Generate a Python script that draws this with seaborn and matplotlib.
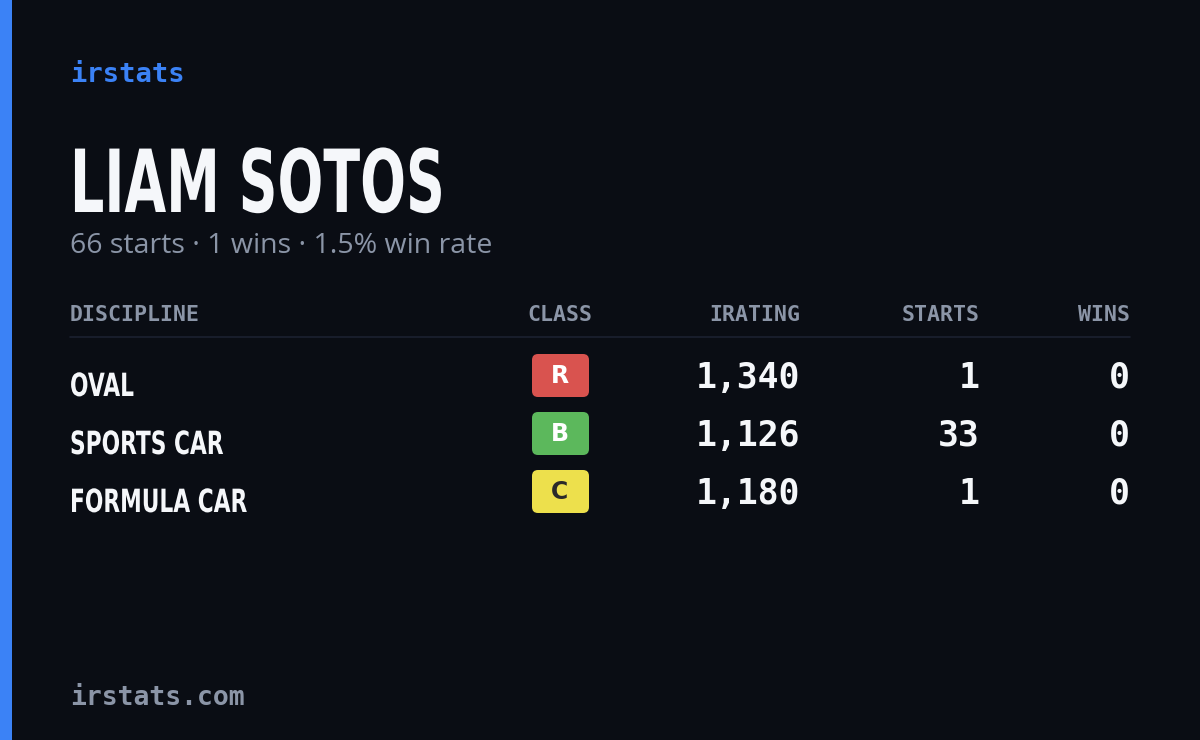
import matplotlib
matplotlib.use('Agg')
import matplotlib.pyplot as plt
import seaborn as sns
from matplotlib.patches import FancyBboxPatch, Rectangle, PathPatch
from matplotlib.textpath import TextPath
from matplotlib.font_manager import FontProperties
from matplotlib.transforms import Affine2D

sns.set_theme(style='dark')
plt.rcParams['font.family'] = ['DejaVu Sans']

# data
player = 'LIAM SOTOS'
total_starts = 66
total_wins = 1
win_rate = 1.5
disciplines = ['OVAL', 'SPORTS CAR', 'FORMULA CAR']
classes = ['R', 'B', 'C']
iratings = [1340, 1126, 1180]
starts = [1, 33, 1]
wins = [0, 0, 0]
headers = ['DISCIPLINE', 'CLASS', 'IRATING', 'STARTS', 'WINS']

BG = '#0a0d14'
BLUE = '#3b82f6'
GRAY = '#8b95a7'
WHITE = '#f5f7fa'
class_colors = {'R': ('#d9534f', 'white'), 'B': ('#5cb85c', 'white'), 'C': ('#ede04c', '#2a2a2a')}
MONO = 'DejaVu Sans Mono'


def condensed_text(ax, x, y, s, size_px, squeeze, color):
    """Draw bold text squeezed horizontally; (x, y) is the left baseline."""
    tp = TextPath((0, 0), s, size=size_px, prop=FontProperties(family='DejaVu Sans', weight='bold'))
    tr = Affine2D().scale(squeeze, -1).translate(x, y)
    ax.add_patch(PathPatch(tr.transform_path(tp), fc=color, ec='none'))


fig = plt.figure(figsize=(12, 7.4), dpi=100, facecolor=BG)
ax = fig.add_axes([0, 0, 1, 1])
ax.set_xlim(0, 1200)
ax.set_ylim(740, 0)
ax.set_facecolor(BG)
ax.axis('off')

ax.add_patch(Rectangle((0, 0), 12, 740, color=BLUE, lw=0))

ax.text(70, 75, 'irstats', color=BLUE, fontsize=19.5, family=MONO, weight='semibold', va='center')
condensed_text(ax, 70, 212, player, 87, 0.62, WHITE)
ax.text(70, 246, f'{total_starts} starts · {total_wins} wins · {win_rate}% win rate',
        color=GRAY, fontsize=20.5, family=['Open Sans', 'DejaVu Sans'], va='center')

col_x = [70, 560, 800, 980, 1130]
col_ha = ['left', 'center', 'right', 'right', 'right']
for h, x, ha in zip(headers, col_x, col_ha):
    ax.text(x, 315, h, color=GRAY, fontsize=15.5, family=MONO, weight='semibold', ha=ha, va='center')
ax.plot([70, 1130], [337, 337], color='#1c2130', lw=1.2)

row_h = 58
for i, (d, c, ir, s, w) in enumerate(zip(disciplines, classes, iratings, starts, wins)):
    y = 376 + i * row_h
    condensed_text(ax, 70, y + 20, d, 32, 0.68, WHITE)
    fc, tc = class_colors[c]
    ax.add_patch(FancyBboxPatch((532, y - 22), 57, 43, boxstyle='round,pad=0,rounding_size=6',
                                fc=fc, ec='none'))
    ax.text(560, y, c, color=tc, fontsize=17, weight='bold', ha='center', va='center')
    for val, x in zip([f'{ir:,}', str(s), str(w)], col_x[2:]):
        ax.text(x, y + 2, val, color=WHITE, fontsize=25, family=MONO, weight='semibold',
                ha='right', va='center')

ax.text(70, 698, 'irstats.com', color=GRAY, fontsize=19, family=MONO, weight='semibold', va='center')

fig.savefig('out.png', dpi=100, facecolor=BG)
